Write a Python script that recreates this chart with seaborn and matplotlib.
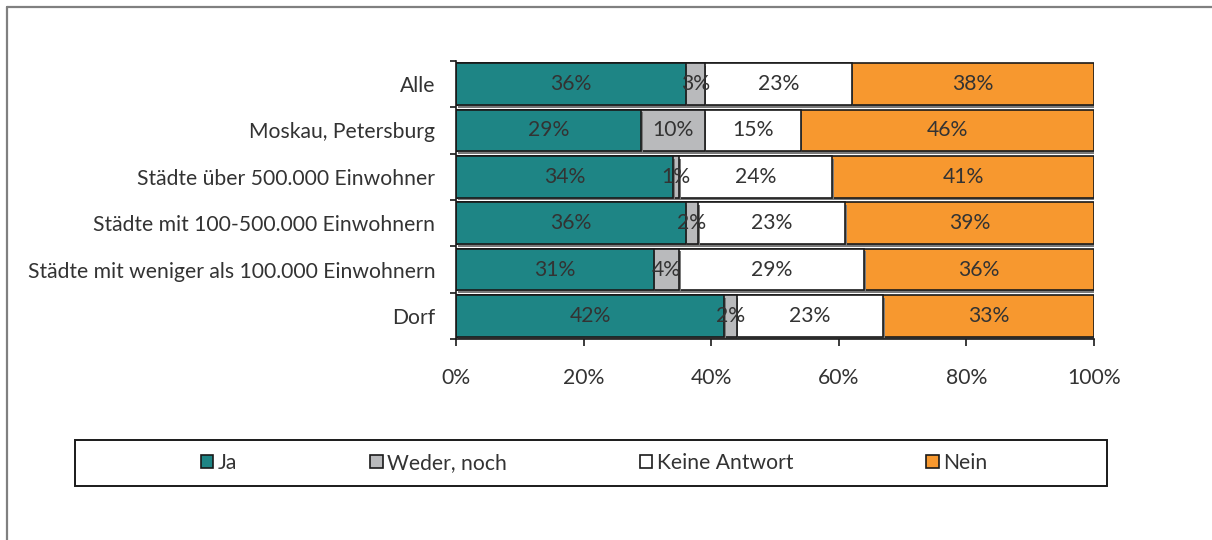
import numpy as np
import pandas as pd
import matplotlib
matplotlib.use("Agg")
import matplotlib.pyplot as plt
import matplotlib.patheffects as pe
from matplotlib.lines import Line2D
from matplotlib.patches import Rectangle, Patch
import seaborn as sns

categories = [
    "Alle",
    "Moskau, Petersburg",
    "Städte über 500.000 Einwohner",
    "Städte mit 100-500.000 Einwohnern",
    "Städte mit weniger als 100.000 Einwohnern",
    "Dorf",
]
series_names = ["Ja", "Weder, noch", "Keine Antwort", "Nein"]
ja = [36, 29, 34, 36, 31, 42]
weder = [3, 10, 1, 2, 4, 2]
keine = [23, 15, 24, 23, 29, 23]
nein = [38, 46, 41, 39, 36, 33]
x_ticks = [0, 20, 40, 60, 80, 100]

colors = ["#1e8585", "#b9babc", "#ffffff", "#f7982f"]
text_color = "#333333"
fs = 15.2

sns.set_style("white")
plt.rcParams["font.family"] = ["Lato", "DejaVu Sans"]
plt.rcParams["font.size"] = fs

values = np.array([ja, weder, keine, nein], dtype=float)
cums = np.cumsum(values, axis=0)

fig = plt.figure(figsize=(12.12, 5.40), dpi=100)
ax = fig.add_axes([456 / 1212, 1 - 339 / 540, 638 / 1212, 278 / 540])

shadow = [pe.SimplePatchShadow(offset=(1.2, -2.0), shadow_rgbFace="#7a7a7a", alpha=1.0), pe.Normal()]

# Stacked bars: draw cumulative totals from the widest down so each layer overlays the previous
for i in range(len(series_names) - 1, -1, -1):
    df = pd.DataFrame({"Kategorie": categories, "Wert": cums[i]})
    sns.barplot(data=df, x="Wert", y="Kategorie", orient="h", color=colors[i],
                saturation=1, width=0.9, edgecolor="#1a1a1a", linewidth=1.2, ax=ax)
for p in ax.patches:
    p.set_path_effects(shadow)

# Percentage labels centred in each segment
for i in range(len(series_names)):
    for j in range(len(categories)):
        v = values[i, j]
        cx = cums[i, j] - v / 2
        ax.text(cx, j, f"{int(v)}%", ha="center", va="center", fontsize=fs, color=text_color)

ax.set_xlim(0, 100)
ax.set_ylim(len(categories) - 0.5, -0.5)
ax.set_xlabel("")
ax.set_ylabel("")
ax.set_xticks(x_ticks)
ax.set_xticklabels([f"{t}%" for t in x_ticks])
ax.set_yticks(range(len(categories)))
ax.set_yticks(np.arange(-0.5, len(categories), 1.0), minor=True)
ax.tick_params(axis="y", which="major", length=0, pad=15, labelsize=fs, labelcolor=text_color)
ax.tick_params(axis="y", which="minor", left=True, length=4.5, width=1.2, color="#1a1a1a", direction="out")
ax.tick_params(axis="x", which="major", bottom=True, length=5, width=1.2, color="#1a1a1a",
               direction="out", pad=16, labelsize=fs, labelcolor=text_color)
for side in ["top", "right"]:
    ax.spines[side].set_visible(False)
for side in ["left", "bottom"]:
    ax.spines[side].set_color("#1a1a1a")
    ax.spines[side].set_linewidth(1.2)
ax.grid(False)

# Outer frame (top and left edge)
fig.add_artist(Line2D([6.5 / 1212, 6.5 / 1212], [0, 1 - 6.5 / 540], transform=fig.transFigure,
                      color="#808080", lw=1.6))
fig.add_artist(Line2D([6.5 / 1212, 1], [1 - 6.5 / 540, 1 - 6.5 / 540], transform=fig.transFigure,
                      color="#808080", lw=1.6))

# Legend box
box = Rectangle((75 / 1212, 1 - 486 / 540), (1107 - 75) / 1212, 46 / 540, transform=fig.transFigure,
                facecolor="white", edgecolor="#1a1a1a", lw=1.4)
fig.add_artist(box)
handles = [Patch(facecolor=c, edgecolor="#1a1a1a", lw=1.2) for c in colors]
fig.legend(handles, series_names, loc="center", bbox_to_anchor=(594 / 1212, 1 - 463 / 540),
           ncol=4, frameon=False, fontsize=fs, handlelength=0.6, handleheight=0.6,
           handletextpad=0.2, columnspacing=6.3, labelcolor=text_color)

fig.savefig("out.png", dpi=100, facecolor="white")
